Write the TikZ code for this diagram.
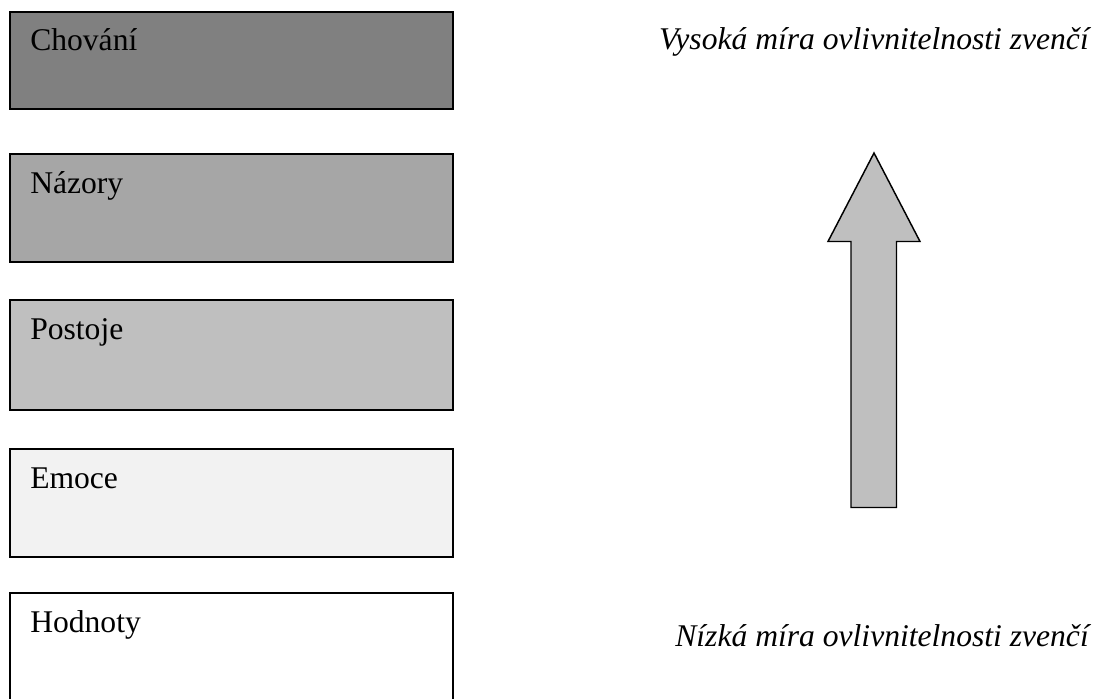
\documentclass[tikz,border=0pt]{standalone}
\usepackage{fontspec}
\setmainfont{Liberation Serif}
\definecolor{shadeA}{RGB}{128,128,128}
\definecolor{shadeB}{RGB}{166,166,166}
\definecolor{shadeC}{RGB}{191,191,191}
\definecolor{shadeD}{RGB}{242,242,242}
\begin{document}
\begin{tikzpicture}[x=0.75pt,y=-0.75pt,
  box/.style={draw=black,line width=1.5pt},
  boxtext/.style={anchor=base west,inner sep=0pt,font=\fontsize{23.7pt}{28pt}\selectfont},
  sidetext/.style={anchor=base east,inner sep=0pt,font=\fontsize{23.7pt}{28pt}\selectfont\itshape},
  blockarrow/.style={draw=black,line width=1.1pt,fill=shadeC,line join=miter}]
\clip (0,0) rectangle (1099,699);
\fill[white] (0,0) rectangle (1099,699);

% stacked layers
\draw[box,fill=shadeA] (9.5,12) rectangle (452.5,109);
\draw[box,fill=shadeB] (9.5,154) rectangle (452.5,262);
\draw[box,fill=shadeC] (9.5,300) rectangle (452.5,410);
\draw[box,fill=shadeD] (9.5,449) rectangle (452.5,557);
\draw[box,fill=white] (9.5,593) rectangle (452.5,730);

\node[boxtext] (chovani) at (30,51) {Chování};
\node[boxtext] (nazory) at (30,193) {Názory};
\node[boxtext] (postoje) at (30,339) {Postoje};
\node[boxtext] (emoce) at (30,488) {Emoce};
\node[boxtext] (hodnoty) at (30,632) {Hodnoty};

% side labels
\node[sidetext] (vysoka) at (1089,50) {Vysoká míra ovlivnitelnosti zvenčí};
\node[sidetext] (nizka) at (1089,646) {Nízká míra ovlivnitelnosti zvenčí};

% upward block arrow
\draw[blockarrow] (874,153) -- (920,241.5) -- (896.5,241.5) -- (896.5,507.5)
  -- (851,507.5) -- (851,241.5) -- (828,241.5) -- cycle;
\end{tikzpicture}
\end{document}
